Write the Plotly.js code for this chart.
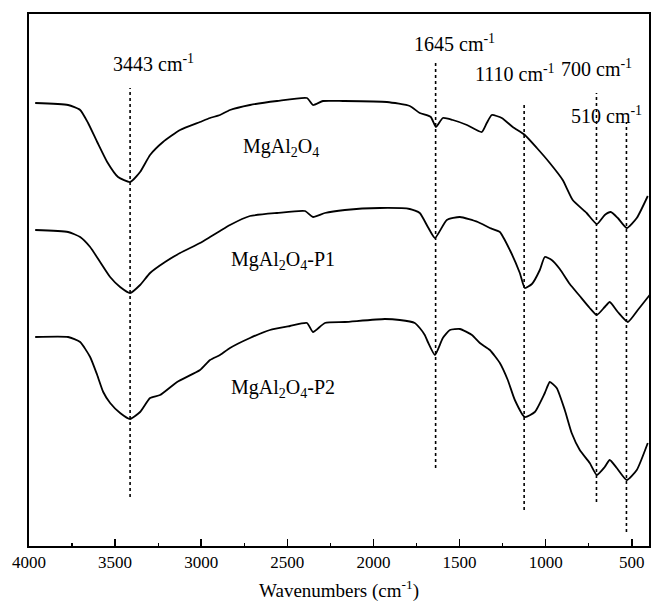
<!DOCTYPE html>
<html>
<head>
<meta charset="utf-8">
<script src="https://cdn.plot.ly/plotly-3.0.1.min.js"></script>
<style>html,body{margin:0;padding:0;background:#fff;}#chart{width:651px;height:609px;}</style>
</head>
<body>
<div id="chart"></div>
<script>
// Spectrum 1: MgAl2O4
const wn1 = [3964,3773,3703,3657,3604,3546,3483,3413,3355,3297,3222,3123,3007,2949,2891,2833,2717,2560,2386,2351,2293,2177,1922,1789,1731,1667,1637,1597,1539,1457,1371,1342,1313,1255,1191,1121,1051,976,901,843,762,703,657,622,581,529,471,407];
const t1  = [443,441,436,423,404,384,369,364,374,391,404,416,424,428,431,436,441,445,448,441,445,445,444,440,433,429,419,428,426,421,414,423,431,428,419,411,398,383,366,346,333,322,331,334,328,318,328,350];
// Spectrum 2: MgAl2O4-P1
const wn2 = [3964,3773,3703,3645,3587,3529,3471,3413,3355,3297,3210,3123,3007,2949,2891,2833,2717,2560,2398,2351,2282,2166,1963,1789,1731,1684,1643,1574,1498,1394,1324,1266,1208,1150,1121,1080,1034,1005,965,918,860,802,744,703,657,628,581,523,465,396];
const t2  = [316,314,309,299,284,269,259,253,261,273,284,293,303,309,315,321,330,333,335,329,333,336,338,337,333,319,308,326,329,324,318,314,296,273,258,262,276,289,286,277,262,250,238,231,239,244,234,224,236,251];
// Spectrum 3: MgAl2O4-P2
const wn3 = [3964,3773,3703,3645,3604,3569,3529,3471,3413,3355,3297,3239,3140,3007,2949,2891,2833,2717,2601,2485,2386,2351,2282,2166,1934,1847,1760,1731,1702,1684,1643,1597,1556,1498,1428,1382,1324,1266,1220,1179,1121,1063,1005,976,936,889,849,802,744,703,657,628,587,529,471,407];
const t3  = [209,209,204,189,171,154,143,133,127,134,148,151,164,176,186,191,198,208,216,220,223,214,223,224,227,226,223,218,211,204,191,208,216,217,211,203,196,183,166,146,129,134,153,164,158,136,113,96,83,71,79,86,78,66,76,103];

const sampleNames = ['MgAl<sub>2</sub>O<sub>4</sub>', 'MgAl<sub>2</sub>O<sub>4</sub>-P1', 'MgAl<sub>2</sub>O<sub>4</sub>-P2'];
const sampleLabelX = [2536, 2524, 2524];
const sampleLabelY = [399, 286, 158];

// Band marker lines (drawn position, extent) and labels
const bandLineWn = [3413, 1639, 1125, 705, 531];
const bandLineTop = [458, 486, 444, 453, 424];
const bandLineBottom = [49, 78, 36, 44, 14];
const bandLabels = ['3443 cm<sup>-1</sup>', '1645 cm<sup>-1</sup>', '1110 cm<sup>-1</sup>', '700 cm<sup>-1</sup>', '510 cm<sup>-1</sup>'];
const bandLabelX = [3280, 1527, 1179, 705, 645];
const bandLabelY = [483, 503, 473, 478, 431];

const xTicks = [4000, 3500, 3000, 2500, 2000, 1500, 1000, 500];

const FONT = 'Liberation Serif';

const traces = [];
[[wn1,t1],[wn2,t2],[wn3,t3]].forEach(function(s){
  traces.push({x:s[0], y:s[1], type:'scatter', mode:'lines',
    line:{color:'#000', width:1.8, shape:'spline', smoothing:0.5}, hoverinfo:'skip', showlegend:false});
});
bandLineWn.forEach(function(w,i){
  traces.push({x:[w,w], y:[bandLineBottom[i], bandLineTop[i]], type:'scatter', mode:'lines',
    line:{color:'#000', width:1.6, dash:'dot'}, hoverinfo:'skip', showlegend:false});
});

const annotations = [];
sampleNames.forEach(function(n,i){
  annotations.push({x:sampleLabelX[i], y:sampleLabelY[i], xref:'x', yref:'y', text:n, showarrow:false,
    font:{family:FONT, size:20, color:'#000'}});
});
bandLabels.forEach(function(n,i){
  annotations.push({x:bandLabelX[i], y:bandLabelY[i], xref:'x', yref:'y', text:n, showarrow:false,
    font:{family:FONT, size:20, color:'#000'}});
});

const layout = {
  width:651, height:609,
  margin:{l:29, r:2, t:14, b:63},
  paper_bgcolor:'#fff', plot_bgcolor:'#fff',
  showlegend:false,
  font:{family:FONT, color:'#000'},
  xaxis:{range:[4000,400], tickvals:xTicks, ticktext:xTicks.map(String),
    ticks:'inside', ticklen:7, tickwidth:1.5, tickcolor:'#000',
    minor:{dtick:250, tick0:0, ticks:'inside', ticklen:3, tickwidth:1.2, tickcolor:'#000', showgrid:false},
    showline:true, mirror:true, linecolor:'#000', linewidth:2,
    showgrid:false, zeroline:false,
    tickfont:{family:FONT, size:17, color:'#000'},
    title:{text:'Wavenumbers (cm<sup>-1</sup>)', font:{family:FONT, size:19, color:'#000'}, standoff:12}},
  yaxis:{range:[0,532], showline:true, mirror:true, linecolor:'#000', linewidth:2,
    ticks:'', showticklabels:false, showgrid:false, zeroline:false},
  annotations:annotations
};

Plotly.newPlot('chart', traces, layout, {displayModeBar:false, staticPlot:true});
</script>
</body>
</html>
